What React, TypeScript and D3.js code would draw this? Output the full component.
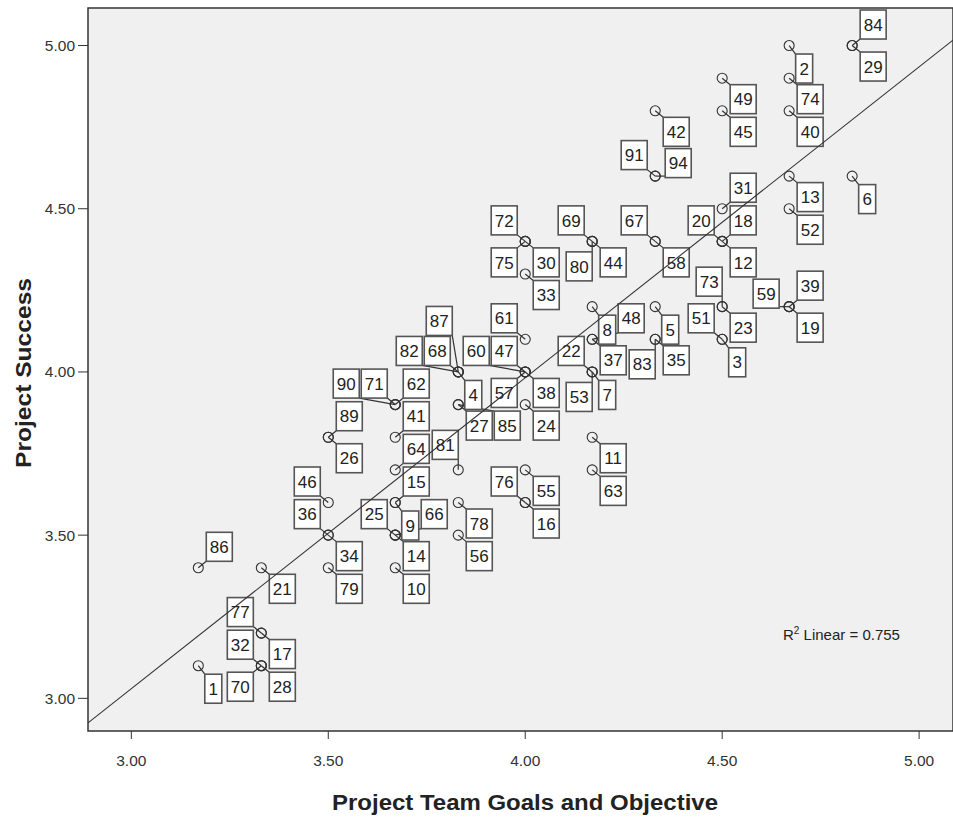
import React from 'react';
import * as d3 from 'd3';

// case numbers and their scores
const caseIds = [
  1, 2, 3, 4, 5, 6, 7, 8, 9, 10, 11, 12, 13, 14, 15, 16, 17, 18, 19, 20,
  21, 22, 23, 24, 25, 26, 27, 28, 29, 30, 31, 32, 33, 34, 35, 36, 37, 38, 39, 40,
  41, 42, 44, 45, 46, 47, 48, 49, 51, 52, 53, 55, 56, 57, 58, 59, 60, 61, 62, 63,
  64, 66, 67, 68, 69, 70, 71, 72, 73, 74, 75, 76, 77, 78, 79, 80, 81, 82, 83, 84,
  85, 86, 87, 89, 90, 91, 94,
];
const teamGoals = [
  3.17, 4.67, 4.5, 3.83, 4.33, 4.83, 4.17, 4.17, 3.67, 3.67, 4.17, 4.5, 4.67, 3.67, 3.67, 4.0, 3.33, 4.5, 4.67, 4.5,
  3.33, 4.17, 4.5, 4.0, 3.67, 3.5, 3.83, 3.33, 4.83, 4.0, 4.5, 3.33, 4.0, 3.5, 4.33, 3.5, 4.17, 4.0, 4.67, 4.67,
  3.67, 4.33, 4.17, 4.5, 3.5, 4.0, 4.17, 4.5, 4.5, 4.67, 4.17, 4.0, 3.83, 4.0, 4.33, 4.67, 4.0, 4.0, 3.67, 4.17,
  3.67, 3.67, 4.33, 3.83, 4.17, 3.33, 3.67, 4.0, 4.5, 4.67, 4.0, 4.0, 3.33, 3.83, 3.5, 4.17, 3.83, 3.83, 4.33, 4.83,
  3.83, 3.17, 3.83, 3.5, 3.67, 4.33, 4.33,
];
const projectSuccess = [
  3.1, 5.0, 4.1, 4.0, 4.2, 4.6, 4.0, 4.2, 3.6, 3.4, 3.8, 4.4, 4.6, 3.5, 3.6, 3.6, 3.2, 4.4, 4.2, 4.4,
  3.4, 4.0, 4.2, 3.9, 3.5, 3.8, 3.9, 3.1, 5.0, 4.4, 4.5, 3.1, 4.3, 3.5, 4.1, 3.5, 4.1, 4.0, 4.2, 4.8,
  3.8, 4.8, 4.4, 4.8, 3.6, 4.0, 4.1, 4.9, 4.1, 4.5, 4.0, 3.7, 3.5, 4.0, 4.4, 4.2, 4.0, 4.1, 3.9, 3.7,
  3.7, 3.5, 4.4, 4.0, 4.4, 3.1, 3.9, 4.4, 4.2, 4.9, 4.4, 3.6, 3.2, 3.6, 3.4, 4.4, 3.7, 4.0, 4.1, 5.0,
  3.9, 3.4, 4.0, 3.8, 3.9, 4.6, 4.6,
];
const xTicks = [3, 3.5, 4, 4.5, 5];
const yTicks = [3, 3.5, 4, 4.5, 5];
const rSquared = '0.755';

const W = 953;
const H = 818;
const plot = { left: 88, top: 8, right: 953, bottom: 731 };
const boxH = 29;

type Box = { x: number; y: number; w: number; h: number };

// penalties: box down-right, up-right, up-left, down-left of the point, then straight sides
const cornerPenalty = { dr: 0, ur: 0.6, ul: 1, dl: 2 };
const sidePenalty = { r: 2, l: 2.5, u: 3, d: 3 };

function candidateOffsets(w: number) {
  const list: { dx: number; dy: number; cost: number }[] = [];
  for (let dx = -75; dx <= 75; dx += 2) {
    for (let dy = -75; dy <= 75; dy += 2) {
      // gap between the point and the nearest part of the box
      const nx = Math.max(dx - w / 2, Math.min(0, dx + w / 2));
      const ny = Math.max(dy - boxH / 2, Math.min(0, dy + boxH / 2));
      const d = Math.hypot(nx, ny);
      if (d < 10) continue;
      let pen: number;
      if (nx !== 0 && ny !== 0) {
        if (Math.abs(nx) < 5 || Math.abs(ny) < 5) continue;
        pen = nx > 0 ? (ny > 0 ? cornerPenalty.dr : cornerPenalty.ur) : ny > 0 ? cornerPenalty.dl : cornerPenalty.ul;
      } else if (nx !== 0) {
        pen = nx > 0 ? sidePenalty.r : sidePenalty.l;
      } else {
        pen = ny > 0 ? sidePenalty.d : sidePenalty.u;
      }
      list.push({ dx, dy, cost: d + pen * 3 });
    }
  }
  return list.sort((a, b) => a.cost - b.cost);
}

function placeLabels(pts: { id: number; px: number; py: number }[]) {
  const boxes: Box[] = [];
  const out: (Box & { id: number; px: number; py: number })[] = [];
  const cand: Record<number, { dx: number; dy: number }[]> = {};
  const hitsBox = (b: Box) =>
    boxes.some(
      (o) => b.x < o.x + o.w + 1 && b.x + b.w + 1 > o.x && b.y < o.y + o.h + 1 && b.y + b.h + 1 > o.y
    );
  const hitsCircle = (b: Box) =>
    pts.some((p) => p.px > b.x - 6 && p.px < b.x + b.w + 6 && p.py > b.y - 6 && p.py < b.y + b.h + 6);
  const inside = (b: Box) =>
    b.x > plot.left + 2 && b.x + b.w < plot.right - 2 && b.y > plot.top + 2 && b.y + b.h < plot.bottom - 2;

  pts.forEach((p) => {
    const w = p.id >= 10 ? 26 : 17;
    if (!cand[w]) cand[w] = candidateOffsets(w);
    let chosen: Box | null = null;
    for (const c of cand[w]) {
      const b = { x: p.px + c.dx - w / 2, y: p.py + c.dy - boxH / 2, w, h: boxH };
      if (inside(b) && !hitsBox(b) && !hitsCircle(b)) {
        chosen = b;
        break;
      }
    }
    if (!chosen) chosen = { x: p.px + 8, y: p.py - boxH - 4, w, h: boxH };
    boxes.push(chosen);
    out.push({ ...chosen, id: p.id, px: p.px, py: p.py });
  });
  return out;
}

export default function App() {
  const x = d3.scaleLinear().domain([2.89, 5.086]).range([plot.left, plot.right]);
  const y = d3.scaleLinear().domain([2.9, 5.115]).range([plot.bottom, plot.top]);

  const pts = caseIds.map((id, i) => ({ id, px: x(teamGoals[i]), py: y(projectSuccess[i]) }));
  const labels = React.useMemo(() => placeLabels(pts), []);

  // least squares fit line
  const mx = d3.mean(teamGoals) as number;
  const my = d3.mean(projectSuccess) as number;
  const sxy = d3.sum(teamGoals, (v, i) => (v - mx) * (projectSuccess[i] - my));
  const sxx = d3.sum(teamGoals, (v) => (v - mx) * (v - mx));
  const slope = sxy / sxx;
  const icpt = my - slope * mx;
  const [x0, x1] = x.domain();
  const fitLine = d3.line<number>().x((v) => x(v)).y((v) => y(icpt + slope * v));

  const fmt = d3.format('.2f');

  return (
    <div style={{ position: 'absolute', left: 0, top: 0 }}>
      <svg width={W} height={H} style={{ display: 'block', fontFamily: 'Liberation Sans, Arial, sans-serif' }}>
        <defs>
          <clipPath id="plotClip">
            <rect x={plot.left} y={plot.top} width={plot.right - plot.left} height={plot.bottom - plot.top} />
          </clipPath>
        </defs>
        <rect width={W} height={H} fill="#fff" />
        <rect
          x={plot.left}
          y={plot.top}
          width={plot.right - plot.left}
          height={plot.bottom - plot.top}
          fill="#f0f0f0"
          stroke="#333"
          strokeWidth={1.5}
        />
        {yTicks.map((t) => (
          <g key={'y' + t}>
            <line x1={plot.left - 10} x2={plot.left} y1={y(t)} y2={y(t)} stroke="#333" />
            <text x={plot.left - 13} y={y(t)} dy="0.35em" textAnchor="end" fontSize={15.5} fill="#333">
              {fmt(t)}
            </text>
          </g>
        ))}
        {xTicks.map((t) => (
          <g key={'x' + t}>
            <line x1={x(t)} x2={x(t)} y1={plot.bottom} y2={plot.bottom + 8} stroke="#333" />
            <text x={x(t)} y={plot.bottom + 35} textAnchor="middle" fontSize={15.5} fill="#333">
              {fmt(t)}
            </text>
          </g>
        ))}
        <text
          x={525}
          y={810}
          textAnchor="middle"
          fontSize={22}
          fontWeight="bold"
          fill="#222"
          textLength={386}
          lengthAdjust="spacingAndGlyphs"
        >
          Project Team Goals and Objective
        </text>
        <text
          transform={`translate(31,373) rotate(-90)`}
          textAnchor="middle"
          fontSize={22}
          fontWeight="bold"
          fill="#222"
          textLength={190}
          lengthAdjust="spacingAndGlyphs"
        >
          Project Success
        </text>
        <g clipPath="url(#plotClip)">
          {labels.map((l) => {
            const nx = Math.max(l.x, Math.min(l.px, l.x + l.w));
            const ny = Math.max(l.y, Math.min(l.py, l.y + l.h));
            return <line key={'l' + l.id} x1={l.px} y1={l.py} x2={nx} y2={ny} stroke="#333" strokeWidth={1.2} />;
          })}
          {labels.map((l) => (
            <g key={'b' + l.id}>
              <rect x={l.x} y={l.y} width={l.w} height={l.h} fill="#fff" stroke="#555" strokeWidth={1.6} />
              <text x={l.x + l.w / 2} y={l.y + l.h / 2} dy="0.36em" textAnchor="middle" fontSize={17} fill="#222">
                {l.id}
              </text>
            </g>
          ))}
          {pts.map((p) => (
            <circle key={'c' + p.id} cx={p.px} cy={p.py} r={5} fill="none" stroke="#333" strokeWidth={1.1} />
          ))}
          <path d={fitLine([x0, x1]) || ''} fill="none" stroke="#333" strokeWidth={1.1} />
        </g>
        <text x={783} y={640} fontSize={15} fill="#222">
          R<tspan dy={-6} fontSize={10}>2</tspan>
          <tspan dy={6}> Linear = {rSquared}</tspan>
        </text>
      </svg>
    </div>
  );
}
